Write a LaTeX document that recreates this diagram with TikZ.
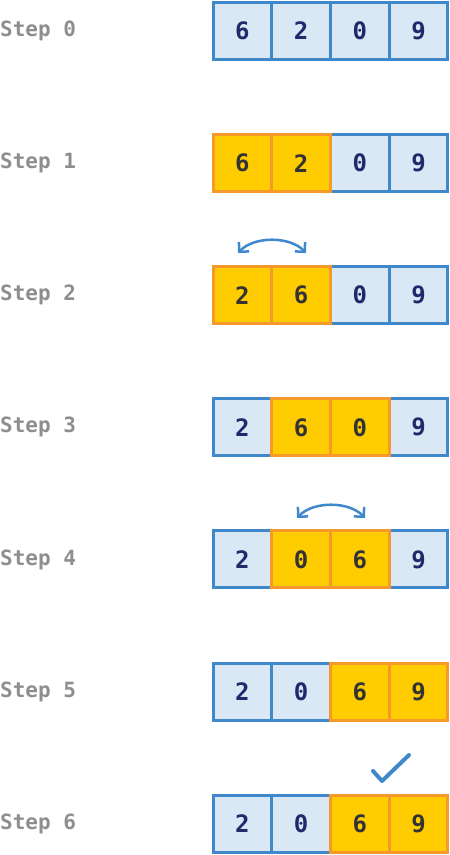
\documentclass[tikz,border=0pt]{standalone}
\usepackage{fontspec}
\newfontfamily\monof{DejaVu Sans Mono}
\usetikzlibrary{arrows.meta}
\definecolor{bblue}{HTML}{3F88CB}
\definecolor{bfill}{HTML}{DAE8F5}
\definecolor{oborder}{HTML}{F59A2A}
\definecolor{ofill}{HTML}{FFCC00}
\definecolor{navy}{HTML}{1F2A6B}
\definecolor{dgray}{HTML}{333333}
\definecolor{lgray}{HTML}{8E8E8E}
\begin{document}
\begin{tikzpicture}[x=1pt,y=-1pt,
  cellbase/.style={line width=3pt, minimum width=58.75pt, minimum height=57pt, inner sep=0pt, font=\monof\bfseries\fontsize{24}{24}\selectfont},
  bcell/.style={cellbase, draw=bblue, fill=bfill, text=navy},
  ocell/.style={cellbase, draw=oborder, fill=ofill, text=dgray},
  steplabel/.style={anchor=west, inner sep=0pt, text=lgray, font=\monof\bfseries\fontsize{21}{21}\selectfont},
  swaparrow/.style={draw=bblue, line width=2.5pt, {Straight Barb[length=7pt,width=14pt]}-{Straight Barb[length=7pt,width=14pt]}},
  checkmark/.style={draw=bblue, line width=4pt, line cap=round, line join=round}]
\useasboundingbox (0,0) rectangle (450,855);
\def\xa{242.4}\def\xb{301.1}\def\xc{359.9}\def\xd{418.6}
% Step 0
\node[steplabel] (l0) at (0,31) {Step 0};
\node[bcell] (r0c1) at (\xa,31) {6};
\node[bcell] (r0c2) at (\xb,31) {2};
\node[bcell] (r0c3) at (\xc,31) {0};
\node[bcell] (r0c4) at (\xd,31) {9};
% Step 1
\node[steplabel] (l1) at (0,163.1) {Step 1};
\node[bcell] (r1c3) at (\xc,163.1) {0};
\node[bcell] (r1c4) at (\xd,163.1) {9};
\node[ocell] (r1c1) at (\xa,163.1) {6};
\node[ocell] (r1c2) at (\xb,163.1) {2};
% Step 2
\node[steplabel] (l2) at (0,295.2) {Step 2};
\node[bcell] (r2c3) at (\xc,295.2) {0};
\node[bcell] (r2c4) at (\xd,295.2) {9};
\node[ocell] (r2c1) at (\xa,295.2) {2};
\node[ocell] (r2c2) at (\xb,295.2) {6};
% Step 3
\node[steplabel] (l3) at (0,427.3) {Step 3};
\node[bcell] (r3c1) at (\xa,427.3) {2};
\node[bcell] (r3c4) at (\xd,427.3) {9};
\node[ocell] (r3c2) at (\xb,427.3) {6};
\node[ocell] (r3c3) at (\xc,427.3) {0};
% Step 4
\node[steplabel] (l4) at (0,559.4) {Step 4};
\node[bcell] (r4c1) at (\xa,559.4) {2};
\node[bcell] (r4c4) at (\xd,559.4) {9};
\node[ocell] (r4c2) at (\xb,559.4) {0};
\node[ocell] (r4c3) at (\xc,559.4) {6};
% Step 5
\node[steplabel] (l5) at (0,691.5) {Step 5};
\node[bcell] (r5c1) at (\xa,691.5) {2};
\node[bcell] (r5c2) at (\xb,691.5) {0};
\node[ocell] (r5c3) at (\xc,691.5) {6};
\node[ocell] (r5c4) at (\xd,691.5) {9};
% Step 6
\node[steplabel] (l6) at (0,823.6) {Step 6};
\node[bcell] (r6c1) at (\xa,823.6) {2};
\node[bcell] (r6c2) at (\xb,823.6) {0};
\node[ocell] (r6c3) at (\xc,823.6) {6};
\node[ocell] (r6c4) at (\xd,823.6) {9};
% swap arrows
\coordinate (s2a) at (238,253);
\coordinate (s2b) at (306,253);
\draw[swaparrow] (s2a) .. controls (254,236) and (290,236) .. (s2b);
\coordinate (s4a) at (297,518);
\coordinate (s4b) at (365,518);
\draw[swaparrow] (s4a) .. controls (313,501) and (349,501) .. (s4b);
% check mark
\coordinate (ck1) at (373,771);
\coordinate (ck2) at (382,781);
\coordinate (ck3) at (409,755);
\draw[checkmark] (ck1) -- (ck2) -- (ck3);
\end{tikzpicture}
\end{document}
